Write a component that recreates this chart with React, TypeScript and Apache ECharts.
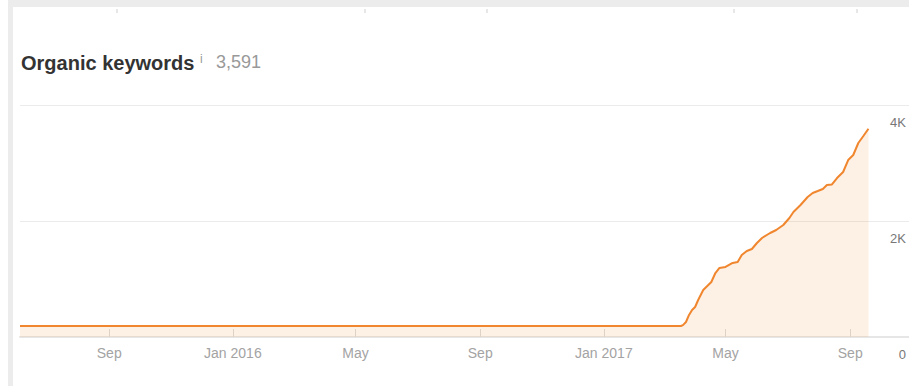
import React, { useEffect, useRef } from "react";
import * as echarts from "echarts";

// ---- data ----
const dates: string[] = [
  "2015-06-05", "2017-03-18", "2017-03-20", "2017-03-23", "2017-03-26", "2017-03-29",
  "2017-04-01", "2017-04-04", "2017-04-09", "2017-04-14", "2017-04-17", "2017-04-21",
  "2017-04-25", "2017-05-01", "2017-05-08", "2017-05-13", "2017-05-17", "2017-05-22",
  "2017-05-27", "2017-06-01", "2017-06-06", "2017-06-14", "2017-06-20", "2017-06-27",
  "2017-07-03", "2017-07-07", "2017-07-14", "2017-07-21", "2017-07-26", "2017-07-31",
  "2017-08-05", "2017-08-09", "2017-08-14", "2017-08-19", "2017-08-25", "2017-08-30",
  "2017-09-04", "2017-09-09", "2017-09-14", "2017-09-19",
];
const keywords: number[] = [
  190, 190, 205, 259, 380, 465,
  517, 638, 810, 896, 948, 1103,
  1190, 1207, 1276, 1293, 1414, 1483,
  1517, 1621, 1707, 1793, 1845, 1931,
  2052, 2155, 2276, 2414, 2483, 2517,
  2552, 2620, 2630, 2741, 2845, 3051,
  3138, 3345, 3465, 3591,
];
const xTickDates: string[] = [
  "2015-09-01", "2016-01-01", "2016-05-01", "2016-09-01", "2017-01-01", "2017-05-01", "2017-09-01",
];
const xTickLabels: string[] = ["Sep", "Jan 2016", "May", "Sep", "Jan 2017", "May", "Sep"];
const yTickValues: number[] = [0, 2000, 4000];
const yTickLabels: string[] = ["0", "2K", "4K"];
const xRange: string[] = ["2015-06-05", "2017-10-29"];
const titleText = "Organic keywords";
const totalText = "3,591";

const ts = (d: string) => new Date(d + "T00:00:00").getTime();

const FONT = "'Liberation Sans', Arial, Helvetica, sans-serif";

export default function App() {
  const ref = useRef<HTMLDivElement>(null);

  useEffect(() => {
    if (!ref.current) return;
    const chart = echarts.init(ref.current, undefined, { renderer: "svg" });
    const tickTs = xTickDates.map(ts);
    const remnantX = [117, 365, 487, 734, 857];

    chart.setOption({
      animation: false,
      backgroundColor: "#ffffff",
      textStyle: { fontFamily: FONT },
      grid: { left: 20, right: 0, top: 105, bottom: 49, containLabel: false },
      xAxis: {
        type: "value",
        min: ts(xRange[0]),
        max: ts(xRange[1]),
        axisLine: { show: true, lineStyle: { color: "#e6e6e6", width: 2 } },
        axisTick: {
          show: true,
          inside: true,
          length: 8,
          lineStyle: { color: "#dcdcdc", width: 1 },
          customValues: tickTs,
        },
        axisLabel: {
          customValues: tickTs,
          color: "#a3a3a3",
          fontSize: 14,
          fontFamily: FONT,
          margin: 9,
          formatter: (v: number) => {
            const i = tickTs.indexOf(v);
            return i >= 0 ? xTickLabels[i] : "";
          },
        },
        splitLine: { show: false },
      },
      yAxis: {
        type: "value",
        position: "right",
        min: 0,
        max: 4000,
        interval: 2000,
        axisLine: { show: false },
        axisTick: { show: false },
        splitLine: { show: true, lineStyle: { color: "#ebebeb", width: 1 } },
        axisLabel: {
          inside: true,
          margin: 3,
          color: "#777777",
          fontSize: 13,
          fontFamily: FONT,
          verticalAlign: "top",
          padding: [11, 0, 0, 0],
          formatter: (v: number) => {
            const i = yTickValues.indexOf(v);
            return i >= 0 ? yTickLabels[i] : "";
          },
        },
      },
      series: [
        {
          type: "line",
          data: dates.map((d, i) => [ts(d), keywords[i]]),
          showSymbol: false,
          symbol: "none",
          lineStyle: { color: "#f0862e", width: 2 },
          itemStyle: { color: "#f0862e" },
          areaStyle: { color: "rgba(242,130,40,0.12)", opacity: 1 },
          z: 3,
        },
      ],
      graphic: [
        { type: "rect", shape: { x: 8, y: 0, width: 901, height: 7 }, style: { fill: "#ececec" }, silent: true },
        { type: "rect", shape: { x: 8, y: 0, width: 5, height: 386 }, style: { fill: "#ececec" }, silent: true },
        ...remnantX.map((x) => ({
          type: "line",
          shape: { x1: x, y1: 9, x2: x, y2: 13 },
          style: { stroke: "#cfcfcf", lineWidth: 1 },
          silent: true,
        })),
        {
          type: "text",
          x: 21,
          y: 63,
          style: {
            text: titleText,
            fill: "#333333",
            fontSize: 20,
            fontWeight: "bold",
            fontFamily: FONT,
            verticalAlign: "middle",
            align: "left",
          },
        },
        {
          type: "text",
          x: 200,
          y: 59,
          style: {
            text: "i",
            fill: "#999999",
            fontSize: 12,
            fontFamily: FONT,
            verticalAlign: "middle",
            align: "left",
          },
        },
        {
          type: "text",
          x: 216,
          y: 62,
          style: {
            text: totalText,
            fill: "#999999",
            fontSize: 18,
            fontFamily: FONT,
            verticalAlign: "middle",
            align: "left",
          },
        },
      ],
    });

    return () => {
      chart.dispose();
    };
  }, []);

  return (
    <div
      ref={ref}
      style={{ position: "absolute", left: 0, top: 0, width: 909, height: 386, background: "#fff" }}
    />
  );
}
